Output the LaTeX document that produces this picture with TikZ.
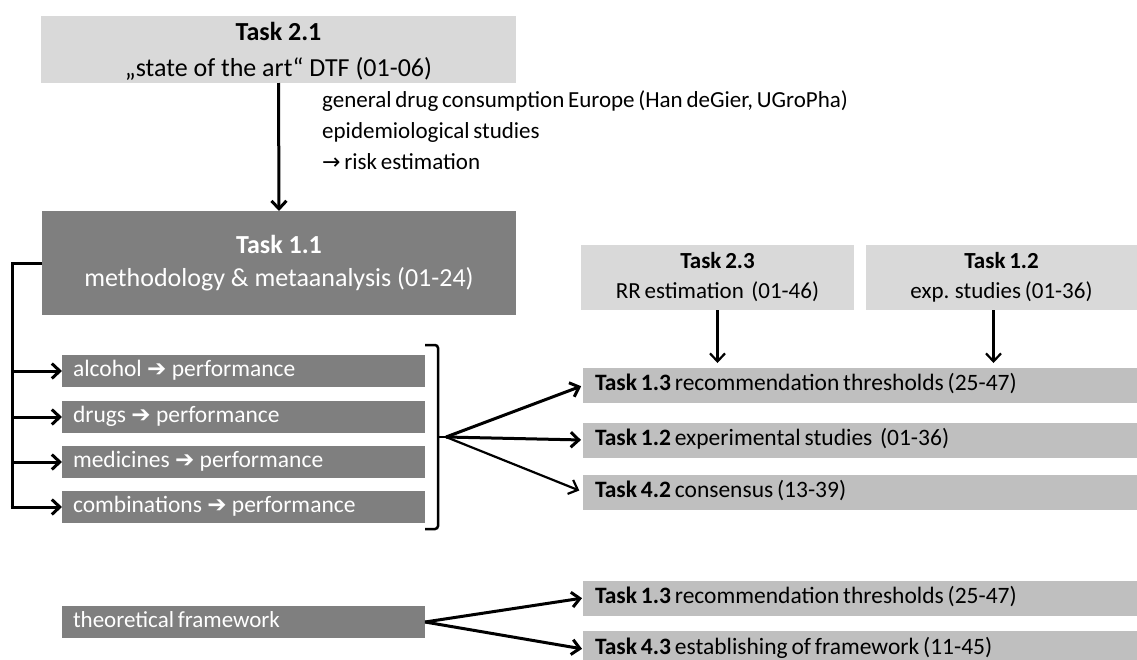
\documentclass[tikz,border=0pt]{standalone}
\usepackage{fontspec}
\setmainfont{Carlito}
\newfontfamily\tightfont{Carlito}[WordSpace=0.72]
\newfontfamily\symfont{DejaVu Sans}
\usetikzlibrary{arrows.meta}
\definecolor{lightbox}{HTML}{D9D9D9}
\definecolor{midbox}{HTML}{BFBFBF}
\definecolor{darkbox}{HTML}{7F7F7F}
\newcommand{\heavyarr}{{\fontsize{23}{27}\selectfont\symfont\bfseries\char"2794}}
\newcommand{\thinarr}{{\fontsize{22}{30}\selectfont\symfont\char"2192}}
\begin{document}
\begin{tikzpicture}[x=1pt,y=-1pt,
  headbox/.style={inner sep=0pt, outer sep=0pt, align=center},
  taskbox/.style={headbox, fill=lightbox, text=black},
  mainbox/.style={headbox, fill=darkbox, text=white},
  itembox/.style={fill=darkbox, text=white, inner xsep=11pt, inner ysep=0pt,
    outer sep=0pt, text width=341pt, minimum height=32pt, align=flush left,
    text height=15.5pt, text depth=5pt, font=\fontsize{23.5}{27}\selectfont},
  resultbox/.style={fill=midbox, text=black, inner xsep=12pt, inner ysep=0pt,
    outer sep=0pt, text width=530pt, minimum height=35pt, align=flush left,
    text height=15.5pt, text depth=5pt, font=\tightfont\fontsize{23.5}{27}\selectfont},
  link/.style={line width=3pt},
  arr/.style={line width=3pt, -{Straight Barb[length=8pt,width=15pt,line width=3pt]}},
  thinarrow/.style={line width=2.2pt, -{Straight Barb[length=8pt,width=15pt,line width=2.2pt]}},
]
\useasboundingbox (0,0) rectangle (1137,659);
\clip (0,0) rectangle (1137,659);

% top level tasks
\node[taskbox, minimum width=475pt, minimum height=67pt] (t21) at (278.5,49.5) {};
\node[font=\fontsize{26}{36}\selectfont, align=center, inner sep=0pt]
  (t21text) at ([yshift=-2pt]t21.center)
  {\textbf{Task 2.1}\\„state of the art“\ DTF (01-06)};
\node[mainbox, minimum width=474pt, minimum height=104pt,
  font=\fontsize{26}{33}\selectfont] (t11) at (279,263)
  {\textbf{Task 1.1}\\methodology \& metaanalysis (01-24)};

\node[anchor=north west, align=flush left, inner sep=0pt,
  font=\tightfont\fontsize{23}{31}\selectfont] (notes) at (322,90)
  {general drug consumption Europe (Han deGier,\ UGroPha)\\
   epidemiological studies\\
   \thinarr\ risk estimation};

\node[taskbox, minimum width=273pt, minimum height=65pt,
  font=\tightfont\fontsize{23}{30}\selectfont] (t23) at (717.5,277.5)
  {\textbf{Task 2.3}\\RR estimation\ \ (01-46)};
\node[taskbox, minimum width=271pt, minimum height=65pt,
  font=\tightfont\fontsize{23}{30}\selectfont] (t12a) at (1001.5,277.5)
  {\textbf{Task 1.2}\\exp. studies (01-36)};

% analysis items
\node[itembox] (alc) at (243.5,371) {alcohol \heavyarr\ performance};
\node[itembox] (drg) at (243.5,417) {drugs \heavyarr\ performance};
\node[itembox] (med) at (243.5,462) {medicines \heavyarr\ performance};
\node[itembox] (cmb) at (243.5,507) {combinations \heavyarr\ performance};
\node[itembox, font=\tightfont\fontsize{23}{27}\selectfont] (theo) at (243.5,622) {theoretical framework};

% results
\node[resultbox] (r13) at (860,385.5) {\textbf{Task 1.3} recommendation thresholds (25-47)};
\node[resultbox] (r12) at (860,440) {\textbf{Task 1.2} experimental studies\ \ (01-36)};
\node[resultbox] (r42) at (860,492) {\textbf{Task 4.2} consensus (13-39)};
\node[resultbox] (s13) at (860,598) {\textbf{Task 1.3} recommendation thresholds (25-47)};
\node[resultbox, minimum height=36pt] (s43) at (860,649) {\textbf{Task 4.3} establishing of framework (11-45)};

% connectors
\draw[arr] (t21.south) -- (t11.north);
\draw[thinarrow, shorten >=5pt] (t23.south) -- (t23.south |- r13.north);
\draw[thinarrow, shorten >=5pt] ([xshift=-8pt]t12a.south) -- ([xshift=-8pt]t12a.south |- r13.north);

\coordinate (spine) at (12,263);
\draw[link, line join=miter] (t11.west) -- (spine) -- (spine |- cmb.west);
\draw[arr] (spine |- alc.west) -- (alc.west);
\draw[arr] (spine |- drg.west) -- (drg.west);
\draw[arr] (spine |- med.west) -- (med.west);
\draw[arr] ([xshift=-1.5pt]spine |- cmb.west) -- (cmb.west);

% bracket grouping the four items
\coordinate (brtop) at (425,345);
\coordinate (brbot) at (425,529);
\coordinate (fan) at (446,437);
\draw[line width=2.5pt, rounded corners=3pt] (brtop) -- (438,345) -- (438,529) -- (brbot);
\draw[line width=2.5pt] (438,437) -- (fan);

\draw[arr, shorten >=2pt] (fan) -- (r13.west);
\draw[arr, shorten >=2pt] (fan) -- (r12.west);
\draw[thinarrow, shorten >=4pt] (fan) -- (r42.west);

\draw[arr, shorten >=1pt] (theo.east) -- (s13.west);
\draw[arr, shorten >=1pt] (theo.east) -- (s43.west);
\end{tikzpicture}
\end{document}
